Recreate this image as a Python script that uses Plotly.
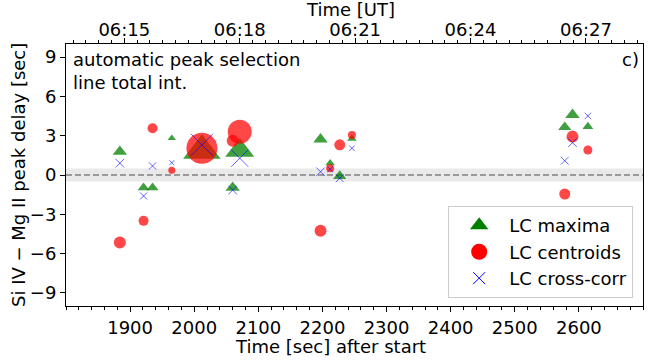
import datetime as dt
import plotly.graph_objects as go

# ---------------- data ----------------
event_time_s = [1884, 1921, 1935, 1965, 2012, 2060, 2071, 2197, 2212, 2227, 2246, 2578, 2590, 2614]
delay_maxima = [1.78, -0.97, -0.97, 2.81, 1.86, -0.97, 1.87, 2.73, 0.90, -0.08, 2.78, 3.65, 4.59, 3.70]
delay_centroids = [-5.15, -3.50, 3.57, 0.36, 2.04, 2.62, 3.31, -4.26, 0.51, 2.30, 3.06, -1.45, 2.93, 1.91]
delay_crosscorr = [0.90, -1.60, 0.69, 0.94, 2.30, -1.15, 1.28, 0.25, 0.44, -0.25, 2.04, 1.09, 2.47, 4.51]
event_weight = [12, 10, 10, 7, 31, 12, 24, 12, 8, 11, 8, 11, 12, 9]   # relative peak strength
y_tick_values = [-9, -6, -3, 0, 3, 6, 9]
x_tick_values = [1900, 2000, 2100, 2200, 2300, 2400, 2500, 2600]
obs_start = dt.datetime(2014, 3, 29, 5, 43, 29)
x_range = [1800, 2700]
y_range = [-10, 10]
band_halfwidth = 0.5

# ---------------- figure ----------------
FONT = "DejaVu Sans"
FS = 18

fig = go.Figure()

tri_size = [w * 1.05 for w in event_weight]
circ_size = [w * 1.0 for w in event_weight]
x_size = [w / 1.4 for w in event_weight]

fig.add_trace(go.Scatter(
    x=event_time_s, y=delay_maxima, mode="markers", showlegend=False,
    marker=dict(symbol="triangle-up", size=tri_size, color="rgba(0,128,0,0.75)",
                opacity=1, line=dict(width=0)),
))
fig.add_trace(go.Scatter(
    x=event_time_s, y=delay_centroids, mode="markers", showlegend=False,
    marker=dict(symbol="circle", size=circ_size, color="rgba(255,0,0,0.72)",
                opacity=1, line=dict(width=0)),
))
fig.add_trace(go.Scatter(
    x=event_time_s, y=delay_crosscorr, mode="markers", showlegend=False,
    marker=dict(symbol="x-thin", size=x_size, color="rgba(0,0,255,0.6)", opacity=1,
                line=dict(width=1, color="rgba(0,0,255,0.6)")),
))

# legend-only entries
fig.add_trace(go.Scatter(x=[None], y=[None], mode="markers", name="LC maxima", legendgroup="a",
                         marker=dict(symbol="triangle-up", size=16, color="green", line=dict(width=0))))
fig.add_trace(go.Scatter(x=[None], y=[None], mode="markers", name="LC centroids", legendgroup="b",
                         marker=dict(symbol="circle", size=16, color="red", line=dict(width=0))))
fig.add_trace(go.Scatter(x=[None], y=[None], mode="markers", name="LC cross-corr", legendgroup="c",
                         marker=dict(symbol="x-thin", size=12, color="blue", line=dict(width=1, color="blue"))))

# invisible trace on the top UT axis
t_lo = obs_start + dt.timedelta(seconds=x_range[0])
t_hi = obs_start + dt.timedelta(seconds=x_range[1])
fig.add_trace(go.Scatter(x=[t_lo, t_hi], y=[None, None], xaxis="x2", mode="markers",
                         showlegend=False, hoverinfo="skip"))

# grey band and dashed zero line
fig.add_shape(type="rect", xref="paper", yref="y", x0=0, x1=1,
              y0=-band_halfwidth, y1=band_halfwidth, fillcolor="#e9e9e9",
              line=dict(width=0), layer="below")
fig.add_shape(type="line", xref="paper", yref="y", x0=0, x1=1, y0=0, y1=0,
              line=dict(color="#808080", width=1.5, dash="6px,3px"), layer="below")

axis_common = dict(showgrid=False, zeroline=False, ticks="outside", ticklen=5, tickwidth=1,
                   tickcolor="black", automargin=False,
                   tickfont=dict(family=FONT, size=FS, color="black"))

fig.update_layout(
    width=656, height=362,
    margin=dict(l=66, r=13, t=44, b=56),
    paper_bgcolor="white", plot_bgcolor="white",
    font=dict(family=FONT, size=FS, color="black"),
    xaxis=dict(range=x_range, tickmode="array", tickvals=x_tick_values,
               showline=True, linecolor="black", linewidth=1, mirror=True,
               minor=dict(ticks="outside", dtick=20, tick0=0, ticklen=3, tickcolor="black"),
               **axis_common),
    xaxis2=dict(type="date", overlaying="x", side="top",
                range=[t_lo, t_hi], dtick=180000, tickformat="%H:%M",
                minor=dict(ticks="outside", dtick=20000, ticklen=3, tickcolor="black"),
                ticklabelstandoff=-5,
                showline=False, **axis_common),
    yaxis=dict(range=y_range, tickmode="array", tickvals=y_tick_values,
               showline=True, linecolor="black", linewidth=1, mirror=True,
               **axis_common),
    legend=dict(x=0.983, y=0.03, xanchor="right", yanchor="bottom",
                bordercolor="#cccccc", borderwidth=1, bgcolor="rgba(255,255,255,0.85)",
                font=dict(family=FONT, size=FS), traceorder="grouped", tracegroupgap=0,
                itemwidth=50),
    showlegend=True,
)

def px2paper(px, py):
    return (px - 66) / 577.0, (306 - py) / 262.0

annots = [
    ("Time [UT]", 350, 10, 0, "center"),
    ("Time [sec] after start", 330, 346, 0, "center"),
    ("Si IV − Mg II peak delay [sec]", 18, 175, -90, "center"),
]
for text, px, py, ang, anc in annots:
    xp, yp = px2paper(px, py)
    fig.add_annotation(text=text, x=xp, y=yp, xref="paper", yref="paper",
                       showarrow=False, textangle=ang, xanchor=anc, yanchor="middle",
                       font=dict(family=FONT, size=FS, color="black"))

xp, yp = px2paper(71, 47)
fig.add_annotation(text="automatic peak selection<br>line total int.", x=xp, y=yp,
                   xref="paper", yref="paper", showarrow=False, xanchor="left", yanchor="top",
                   align="left", font=dict(family=FONT, size=FS, color="black"))
xp, yp = px2paper(641, 47)
fig.add_annotation(text="c)", x=xp, y=yp, xref="paper", yref="paper", showarrow=False,
                   xanchor="right", yanchor="top", font=dict(family=FONT, size=FS, color="black"))

fig.write_html("out.html", config={"displayModeBar": False},
               post_script="document.body.style.margin='0';")
